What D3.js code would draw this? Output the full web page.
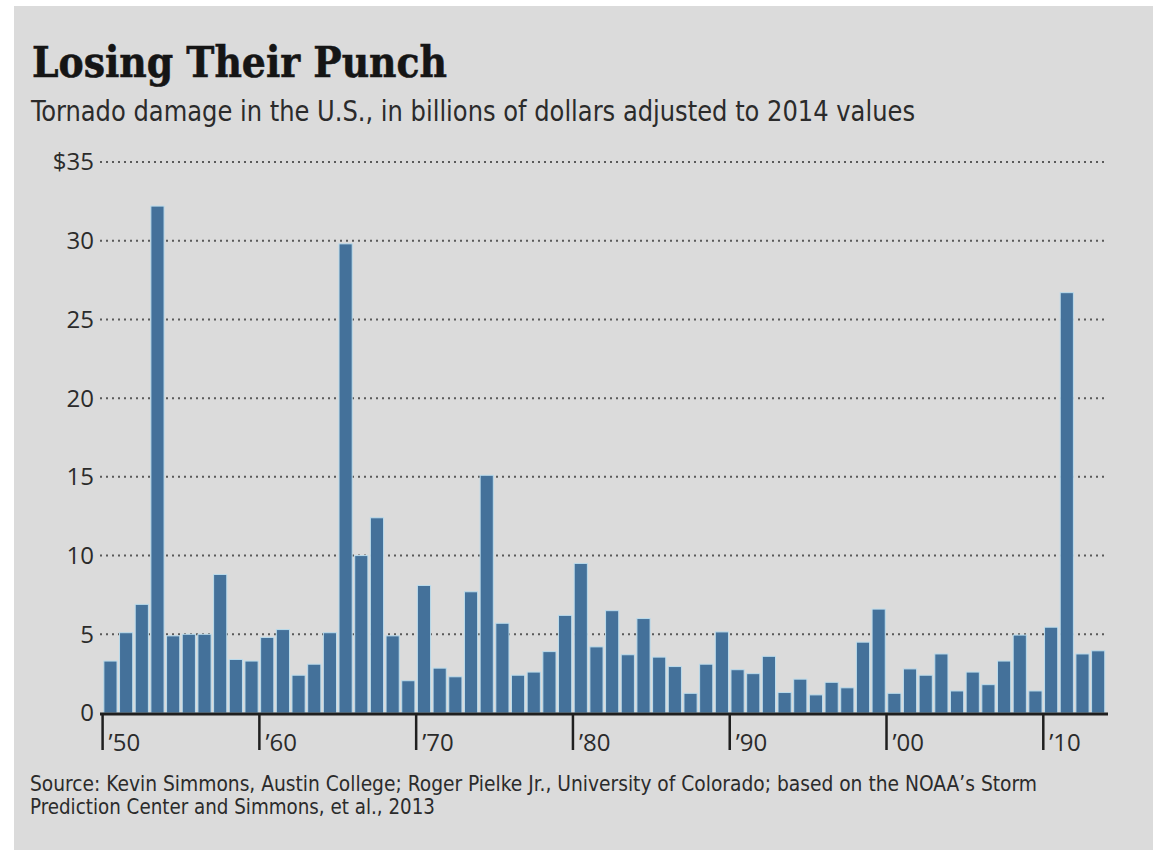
<!DOCTYPE html>
<html>
<head>
<meta charset="utf-8">
<script src="https://cdn.jsdelivr.net/npm/d3@7"></script>
<style>
  html, body { margin: 0; padding: 0; background: #ffffff; }
  svg { display: block; }
</style>
</head>
<body>
<svg id="chart" width="1164" height="850"></svg>
<script>
// Annual U.S. tornado damage, billions of 2014 dollars
const years = d3.range(1950, 2014);
const damage = [
  3.3, 5.1, 6.9, 32.2, 4.9, 5.0, 5.0, 8.8, 3.4, 3.3,
  4.8, 5.3, 2.4, 3.1, 5.1, 29.8, 10.0, 12.4, 4.9, 2.05,
  8.1, 2.85, 2.3, 7.7, 15.1, 5.7, 2.4, 2.6, 3.9, 6.2,
  9.5, 4.2, 6.5, 3.7, 6.0, 3.55, 2.95, 1.25, 3.1, 5.15,
  2.75, 2.5, 3.6, 1.3, 2.15, 1.15, 1.95, 1.6, 4.5, 6.6,
  1.25, 2.8, 2.4, 3.75, 1.4, 2.6, 1.8, 3.3, 4.95, 1.4,
  5.45, 26.7, 3.75, 3.95
];
const yTicks = [0, 5, 10, 15, 20, 25, 30, 35];
const decadeTicks = [1950, 1960, 1970, 1980, 1990, 2000, 2010];
const decadeLabels = ["’50", "’60", "’70", "’80", "’90", "’00", "’10"];

const titleText = "Losing Their Punch";
const subtitleText = "Tornado damage in the U.S., in billions of dollars adjusted to 2014 values";
const sourceLines = [
  "Source: Kevin Simmons, Austin College; Roger Pielke Jr., University of Colorado; based on the NOAA’s Storm",
  "Prediction Center and Simmons, et al., 2013"
];

const svg = d3.select("#chart");
const sansNarrow = "'Liberation Sans Narrow', 'DejaVu Sans Condensed', 'Open Sans', sans-serif";

// panel
svg.append("rect")
  .attr("x", 14).attr("y", 6)
  .attr("width", 1139).attr("height", 844)
  .attr("fill", "#dbdbdb");

// headings
svg.append("text")
  .attr("x", 32).attr("y", 77)
  .attr("font-family", "'DejaVu Serif', serif")
  .attr("font-weight", "bold")
  .attr("font-size", 42)
  .attr("textLength", 415)
  .attr("lengthAdjust", "spacingAndGlyphs")
  .attr("fill", "#151515")
  .attr("stroke", "#151515")
  .attr("stroke-width", 0.6)
  .text(titleText);

svg.append("text")
  .attr("x", 31).attr("y", 121)
  .attr("font-family", sansNarrow)
  .attr("font-size", 28)
  .attr("textLength", 884)
  .attr("lengthAdjust", "spacingAndGlyphs")
  .attr("fill", "#2b2b2b")
  .text(subtitleText);

// scales
const x = d3.scaleBand()
  .domain(years)
  .range([102.6, 1106])
  .paddingInner(0.16)
  .paddingOuter(0.08);

const y = d3.scaleLinear()
  .domain([0, 35])
  .range([713, 162]);

const tickX = yr => x(yr) - x.step() * x.paddingInner() / 2;

// dotted gridlines
svg.append("g")
  .selectAll("line")
  .data(yTicks.filter(d => d > 0))
  .join("line")
  .attr("x1", 100).attr("x2", 1106)
  .attr("y1", d => y(d)).attr("y2", d => y(d))
  .attr("stroke", "#5a5a5a")
  .attr("stroke-width", 2)
  .attr("stroke-dasharray", "2,4");

// y labels
svg.append("g")
  .selectAll("text")
  .data(yTicks)
  .join("text")
  .attr("x", 94)
  .attr("y", d => y(d))
  .attr("dy", "0.35em")
  .attr("text-anchor", "end")
  .attr("font-family", "'Open Sans', sans-serif")
  .attr("font-size", 24)
  .attr("fill", "#2b2b2b")
  .text(d => d === 35 ? "$35" : d);

// bars
svg.append("g")
  .selectAll("rect")
  .data(years.map((yr, i) => ({ yr, v: damage[i] })))
  .join("rect")
  .attr("x", d => x(d.yr))
  .attr("y", d => y(d.v))
  .attr("width", x.bandwidth())
  .attr("height", d => y(0) - y(d.v))
  .attr("fill", "#44719a")
  .attr("stroke", "#bcdcec")
  .attr("stroke-width", 1);

// baseline
svg.append("line")
  .attr("x1", 100).attr("x2", 1108)
  .attr("y1", 714).attr("y2", 714)
  .attr("stroke", "#1f1f1f")
  .attr("stroke-width", 3);

// decade ticks and labels
const dg = svg.append("g");
dg.selectAll("line")
  .data(decadeTicks)
  .join("line")
  .attr("x1", d => tickX(d)).attr("x2", d => tickX(d))
  .attr("y1", 713).attr("y2", 750)
  .attr("stroke", "#1f1f1f")
  .attr("stroke-width", 2.5);

dg.selectAll("text")
  .data(decadeTicks)
  .join("text")
  .attr("x", d => tickX(d) + 6)
  .attr("y", 751)
  .attr("font-family", "'Open Sans', sans-serif")
  .attr("font-size", 24)
  .attr("fill", "#2b2b2b")
  .text((d, i) => decadeLabels[i]);

// source note
const srcLen = [1007, 405];
svg.append("g")
  .selectAll("text")
  .data(sourceLines)
  .join("text")
  .attr("x", 30)
  .attr("y", (d, i) => 791 + i * 23)
  .attr("font-family", sansNarrow)
  .attr("font-size", 21)
  .attr("textLength", (d, i) => srcLen[i])
  .attr("lengthAdjust", "spacingAndGlyphs")
  .attr("fill", "#2b2b2b")
  .text(d => d);
</script>
</body>
</html>
